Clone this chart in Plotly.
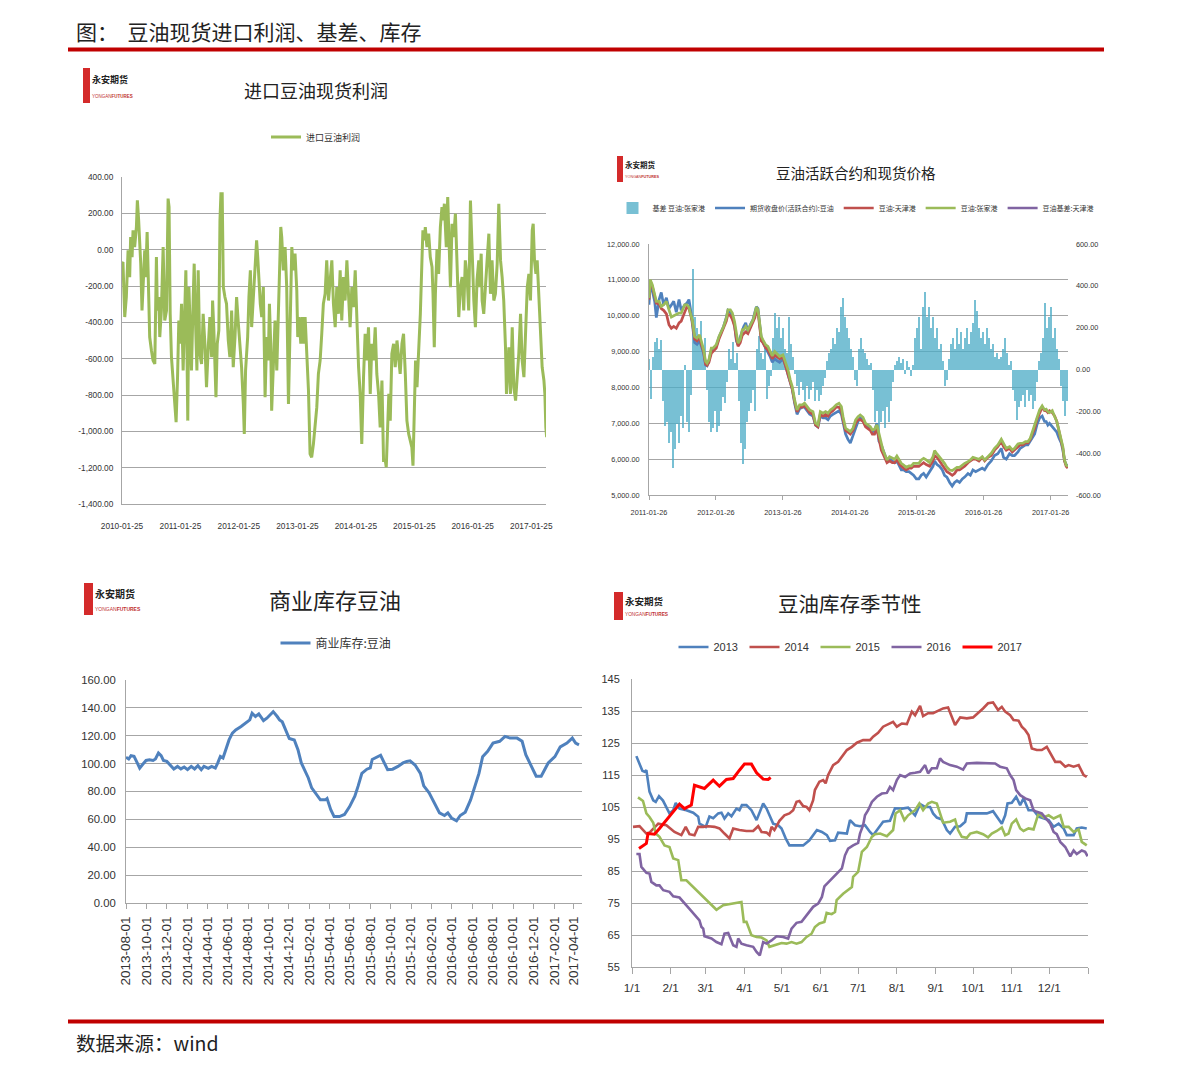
import pandas as pd
import plotly.graph_objects as go

W, H = 1191, 1075
def px(x): return x / W
def py(y): return 1 - y / H

CJK = "Noto Sans CJK SC"
SANS = "Liberation Sans, Arial"
GRID = "#A6A6A6"
TICKC = "#333333"

# ---------------- Chart 1: 进口豆油现货利润 ----------------
profit_start = "2010-01-25"
profit_days = [
    0, 6, 17, 27, 38, 48, 54, 63, 69, 79,
    90, 96, 104, 117, 125, 134, 142, 148, 157, 163,
    173, 184, 194, 205, 215, 221, 230, 236, 246, 257,
    267, 278, 288, 294, 301, 309, 319, 330, 338, 347,
    355, 363, 372, 382, 393, 399, 405, 411, 418, 426,
    434, 445, 451, 459, 468, 476, 486, 497, 507, 518,
    528, 539, 549, 560, 566, 574, 580, 587, 595, 605,
    612, 618, 626, 633, 643, 653, 664, 674, 685, 695,
    706, 716, 727, 737, 747, 758, 764, 772, 785, 793,
    802, 810, 821, 831, 841, 848, 856, 864, 873, 883,
    894, 904, 914, 921, 929, 935, 946, 956, 967, 973,
    981, 992, 998, 1008, 1019, 1029, 1040, 1048, 1061, 1071,
    1081, 1092, 1098, 1107, 1117, 1127, 1136, 1144, 1155, 1165,
    1175, 1185, 1196, 1206, 1217, 1227, 1238, 1248, 1258, 1269,
    1279, 1290, 1300, 1311, 1321, 1332, 1342, 1352, 1363, 1373,
    1384, 1394, 1405, 1415, 1425, 1436, 1446, 1457, 1467, 1478,
    1488, 1498, 1509, 1519, 1530, 1540, 1551, 1561, 1571, 1582,
    1592, 1603, 1613, 1624, 1634, 1645, 1651, 1659, 1667, 1676,
    1686, 1697, 1707, 1718, 1728, 1738, 1749, 1759, 1770, 1780,
    1791, 1801, 1811, 1818, 1826, 1834, 1843, 1853, 1864, 1874,
    1880, 1889, 1895, 1905, 1916, 1926, 1937, 1943, 1951, 1958,
    1968, 1978, 1989, 1999, 2006, 2014, 2020, 2026, 2035, 2043,
    2052, 2062, 2072, 2083, 2093, 2104, 2114, 2125, 2135, 2145,
    2156, 2166, 2177, 2187, 2198, 2208, 2218, 2229, 2235, 2244,
    2250, 2260, 2271, 2281, 2292, 2302, 2312, 2323, 2333, 2344,
    2354, 2365, 2375, 2385, 2396, 2402, 2410, 2417, 2427, 2438,
    2448, 2459, 2469, 2479, 2490, 2500, 2511, 2521, 2532, 2542,
    2552, 2563, 2569, 2577, 2586, 2594, 2605, 2615, 2625, 2636,
    2642, 2648, 2653, 2657,
]
profit_vals = [
    -77, -68, -371, -261, -4, -151, 69, -41, 106, 14,
    125, 272, 161, -77, -335, -114, -4, -151, 97, -114,
    -481, -555, -610, -629, -41, -335, -261, -481, -335, 14,
    -390, -335, 281, 235, -353, -592, -702, -849, -950, -702,
    -390, -518, -298, -665, -206, -114, -481, -941, -206, -518,
    -665, -261, -77, -390, -665, -114, -573, -629, -353, -518,
    -757, -537, -371, -592, -280, -445, -665, -812, -518, -445,
    161, 308, 308, -206, -261, -298, -500, -592, -335, -647,
    -481, -261, -408, -518, -647, -849, -1014, -665, -481, -261,
    -114, -426, -261, -41, 51, -41, -188, -298, -371, -206,
    -812, -481, -610, -298, -518, -886, -629, -390, -665, -445,
    -114, 125, 69, -114, 14, -206, -849, -445, 14, -114,
    -22, -225, -481, -371, -518, -371, -518, -371, -592, -775,
    -1124, -1143, -1069, -978, -867, -684, -610, -463, -298, -243,
    -59, -280, -151, -59, -298, -427, -206, -353, -114, -390,
    -151, -280, -59, -243, -427, -206, -316, -114, -390, -647,
    -794, -1069, -702, -463, -610, -427, -794, -518, -610, -427,
    -684, -794, -978, -720, -1161, -1161, -1198, -941, -794, -941,
    -573, -518, -647, -500, -610, -684, -518, -463, -684, -941,
    -1014, -1051, -1088, -1189, -831, -610, -757, -573, -353, -59,
    106, 51, 124, 14, 88, -41, -96, -243, -537, -243,
    4, -133, 124, 234, 161, 253, 124, 14, 290, 88,
    -206, 143, 69, 198, -59, -371, -206, -151, -335, -59,
    -151, -335, 271, -59, -280, -427, -169, -59, -206, -22,
    -280, -353, -169, -59, 88, -243, -59, -280, -243, -78,
    253, -59, -151, -280, -537, -794, -647, -537, -794, -427,
    -757, -831, -702, -573, -353, -610, -702, -427, -206, -133,
    -280, 106, 143, -59, -133, -59, -280, -463, -647, -720,
    -794, -978, -1032, -959,
]
profit_ticks = ["2010-01-25", "2011-01-25", "2012-01-25", "2013-01-25",
                "2014-01-25", "2015-01-25", "2016-01-25", "2017-01-25"]
profit_yticks = [400, 200, 0, -200, -400, -600, -800, -1000, -1200, -1400]

# ---------------- Chart 2: 豆油活跃合约和现货价格 ----------------
price_start = "2011-01-26"
price_days = [
    0, 7, 18, 31, 40, 55, 67, 80, 95, 109,
    122, 135, 149, 164, 176, 195, 207, 218, 226, 236,
    244, 249, 262, 276, 286, 298, 309, 317, 327, 340,
    349, 367, 382, 395, 407, 422, 431, 444, 455, 467,
    477, 486, 498, 509, 517, 528, 540, 553, 568, 578,
    586, 595, 604, 613, 622, 637, 649, 662, 673, 686,
    698, 713, 731, 746, 759, 771, 782, 795, 808, 822,
    837, 849, 862, 877, 895, 909, 922, 935, 950, 964,
    977, 990, 1004, 1022, 1037, 1050, 1059, 1073, 1086, 1099,
    1113, 1128, 1141, 1153, 1168, 1182, 1195, 1208, 1219, 1231,
    1244, 1255, 1268, 1277, 1286, 1299, 1313, 1328, 1341, 1353,
    1368, 1377, 1390, 1404, 1419, 1432, 1444, 1459, 1473, 1486,
    1499, 1513, 1532, 1550, 1559, 1572, 1586, 1601, 1613, 1626,
    1641, 1655, 1668, 1681, 1695, 1710, 1723, 1741, 1754, 1768,
    1783, 1801, 1819, 1832, 1850, 1868, 1886, 1904, 1923, 1935,
    1950, 1968, 1983, 1995, 2014, 2026, 2041, 2055, 2068, 2081,
    2096, 2105, 2117, 2132, 2146, 2159, 2168, 2177, 2186, 2201,
    2214, 2226, 2237, 2250, 2259, 2268, 2277, 2286,
]
futures_close = [
    10306, 10900, 10700, 10400, 9950, 10450, 10650, 10300, 10500, 10200,
    10300, 10400, 10100, 10450, 10150, 10300, 10350, 10450, 10200, 9800,
    9400, 9250, 9200, 9300, 9150, 8950, 8620, 8600, 8750, 9050,
    9050, 9150, 9400, 9550, 9700, 9950, 10150, 10100, 9950, 9750,
    9300, 9200, 9400, 9600, 9700, 9800, 9550, 9750, 9900, 10100,
    10250, 10200, 9750, 9350, 9250, 9100, 9000, 8850, 8700, 8800,
    8750, 8700, 8800, 8600, 8350, 8100, 7950, 7550, 7250, 7400,
    7450, 7450, 7350, 7250, 7200, 6950, 6900, 7200, 7150, 7150,
    7100, 7200, 7250, 7300, 7350, 7250, 7000, 6700, 6550, 6450,
    6650, 6900, 7050, 7150, 7100, 6950, 6900, 6850, 6750, 6800,
    7000, 6500, 6400, 6250, 6100, 5950, 6000, 5950, 5900, 5950,
    5800, 5700, 5700, 5650, 5650, 5600, 5550, 5450, 5450, 5550,
    5600, 5500, 5650, 5800, 5950, 5850, 5800, 5700, 5550, 5500,
    5350, 5250, 5350, 5400, 5350, 5450, 5500, 5600, 5550, 5700,
    5650, 5700, 5750, 5700, 5850, 5950, 6100, 6150, 6300, 6050,
    6000, 6150, 6100, 6100, 6200, 6300, 6350, 6400, 6400, 6500,
    6650, 6700, 6950, 7150, 7200, 7050, 7050, 6950, 7000, 6900,
    6800, 6750, 6600, 6450, 6250, 5950, 5850, 5800,
]
tianjin_price = [
    10450, 10950, 10820, 10500, 10350, 10330, 10200, 10150, 10050, 9750,
    9650, 9700, 9650, 9800, 9850, 10100, 10250, 10200, 10050, 9850,
    9550, 9350, 9300, 9400, 9200, 9000, 8650, 8620, 8700, 8950,
    9000, 9100, 9350, 9500, 9650, 9850, 10050, 10000, 9900, 9700,
    9350, 9150, 9250, 9450, 9500, 9550, 9500, 9650, 9800, 9950,
    10150, 10100, 9700, 9300, 9250, 9100, 9050, 8900, 8800, 8900,
    8850, 8800, 8850, 8600, 8400, 8150, 7950, 7600, 7320, 7450,
    7450, 7500, 7400, 7300, 7250, 6950, 6900, 7250, 7200, 7250,
    7200, 7300, 7350, 7450, 7450, 7350, 7100, 6800, 6750, 6700,
    6800, 7000, 7100, 7100, 7050, 6900, 6850, 6800, 6700, 6700,
    6850, 6600, 6250, 6150, 6050, 5900, 5950, 5900, 5900, 6000,
    5850, 5800, 5750, 5700, 5750, 5750, 5800, 5800, 5800, 5850,
    5900, 5850, 5800, 5950, 6100, 6050, 5950, 5850, 5750, 5650,
    5600, 5550, 5600, 5700, 5700, 5750, 5800, 5900, 5950, 6000,
    6000, 5950, 6050, 5950, 6050, 6100, 6250, 6350, 6500, 6350,
    6250, 6300, 6200, 6250, 6350, 6400, 6400, 6450, 6450, 6550,
    6750, 6850, 7100, 7300, 7450, 7350, 7350, 7300, 7350, 7300,
    7200, 7050, 6800, 6550, 6300, 5950, 5800, 5750,
]
zjg_price = [
    10492, 11004, 10864, 10538, 10399, 10399, 10259, 10306, 10399, 10166,
    9961, 9999, 10027, 10073, 10073, 10306, 10306, 10241, 10073, 9887,
    9608, 9421, 9375, 9468, 9282, 9049, 8723, 8677, 8770, 9096,
    9096, 9189, 9421, 9561, 9701, 9933, 10166, 10166, 10073, 9840,
    9468, 9235, 9328, 9608, 9608, 9701, 9608, 9747, 9887, 10073,
    10241, 10166, 9794, 9421, 9328, 9189, 9142, 9003, 8882, 9003,
    8937, 8863, 8910, 8677, 8491, 8211, 8025, 7653, 7373, 7513,
    7513, 7560, 7467, 7373, 7327, 7001, 6955, 7327, 7281, 7327,
    7281, 7373, 7420, 7513, 7560, 7467, 7187, 6861, 6815, 6768,
    6861, 7094, 7187, 7234, 7169, 7001, 6955, 6908, 6815, 6833,
    6955, 6722, 6396, 6256, 6145, 5977, 6070, 6024, 5996, 6089,
    5959, 5884, 5838, 5772, 5810, 5810, 5884, 5884, 5884, 5977,
    6024, 5977, 5903, 6070, 6238, 6145, 6052, 5977, 5884, 5772,
    5698, 5679, 5716, 5772, 5772, 5838, 5884, 5931, 5977, 6052,
    6024, 5996, 6070, 5977, 6070, 6163, 6303, 6396, 6554, 6443,
    6303, 6349, 6256, 6303, 6424, 6443, 6443, 6489, 6489, 6582,
    6815, 6908, 7141, 7373, 7485, 7373, 7392, 7327, 7299, 7355,
    7187, 7048, 6815, 6582, 6349, 5977, 5838, 5791,
]
basis_zjg = [
    50, -140, 60, 130, 150, 100, 140, -150, -270, -250,
    -350, -300, -470, -380, -260, -350, -220, -280, 20, -250,
    -300, -120, 480, 250, 200, 120, 230, 90, 150, -100,
    -250, -300, -280, -200, -300, -270, -200, -130, -160, -60,
    100, 50, 130, 30, 80, -150, -350, -450, -380, -250,
    -200, -160, -100, -200, 100, 160, 80, 50, 120, -140,
    -80, -30, 150, 270, 200, 250, 150, 200, 100, 80,
    250, 120, 60, -20, -80, -120, -60, -100, -150, -80,
    -140, -100, -60, -150, -100, -150, -120, -80, -40, 40,
    80, 100, 150, 120, 200, 180, 300, 340, 250, 200,
    150, 100, 60, -50, -80, 100, 150, 100, 80, 50,
    20, 30, -100, -250, -200, -300, -250, -200, -280, -180,
    -250, -150, -60, 20, 40, 60, 30, 50, -20, 40,
    10, -30, 20, 150, 200, 250, 100, 300, 370, 250,
    300, 200, 250, 150, 200, 100, 120, 40, -80, -50,
    50, 120, 150, 100, 200, 120, 180, 100, 150, 200,
    120, 180, 220, 330, 280, 200, 150, 180, 120, 200,
    150, 100, 120, 60, 80, 50, 60, 100, 150, 80,
    20, 40, -100, -150, -240, -180, -150, -120, -180, -100,
    -150, -120, -190, -150, -60, 40, 80, 150, 320, 200,
    250, 300, 150, 200, 100, 50, -80, -150, -220, -150,
]
basis_tianjin = [None]
price_ticks = ["2011-01-26", "2012-01-26", "2013-01-26", "2014-01-26",
               "2015-01-26", "2016-01-26", "2017-01-26"]
price_yticks = [5000, 6000, 7000, 8000, 9000, 10000, 11000, 12000]
basis_yticks = [-600, -400, -200, 0, 200, 400, 600]

# ---------------- Chart 3: 商业库存豆油 ----------------
stock_dates = [
    "2013-08-01", "2013-08-09", "2013-08-16", "2013-08-25", "2013-09-04", "2013-09-11",
    "2013-09-19", "2013-09-30", "2013-10-10", "2013-10-21", "2013-10-28", "2013-11-06",
    "2013-11-14", "2013-11-21", "2013-12-01", "2013-12-12", "2013-12-22", "2014-01-02",
    "2014-01-12", "2014-01-22", "2014-02-01", "2014-02-12", "2014-02-22", "2014-03-04",
    "2014-03-14", "2014-03-22", "2014-04-04", "2014-04-14", "2014-04-25", "2014-05-02",
    "2014-05-10", "2014-05-18", "2014-05-26", "2014-06-05", "2014-06-15", "2014-06-25",
    "2014-07-11", "2014-07-26", "2014-08-06", "2014-08-13", "2014-08-23", "2014-09-02",
    "2014-09-16", "2014-09-26", "2014-10-06", "2014-10-15", "2014-10-27", "2014-11-03",
    "2014-11-11", "2014-11-22", "2014-12-02", "2014-12-17", "2014-12-28", "2015-01-07",
    "2015-01-17", "2015-01-28", "2015-02-07", "2015-02-17", "2015-03-05", "2015-03-20",
    "2015-03-25", "2015-04-05", "2015-04-15", "2015-05-01", "2015-05-16", "2015-05-31",
    "2015-06-16", "2015-06-26", "2015-07-07", "2015-07-22", "2015-08-01", "2015-08-07",
    "2015-08-22", "2015-09-01", "2015-09-12", "2015-09-22", "2015-10-07", "2015-10-23",
    "2015-11-07", "2015-11-18", "2015-11-28", "2015-12-13", "2015-12-29", "2016-01-08",
    "2016-01-24", "2016-02-08", "2016-02-24", "2016-03-10", "2016-03-20", "2016-03-31",
    "2016-04-10", "2016-04-15", "2016-04-26", "2016-05-11", "2016-05-27", "2016-06-11",
    "2016-06-21", "2016-07-02", "2016-07-17", "2016-08-02", "2016-08-22", "2016-09-07",
    "2016-09-22", "2016-10-13", "2016-10-28", "2016-11-08", "2016-11-23", "2016-12-09",
    "2016-12-24", "2017-01-14", "2017-02-03", "2017-02-19", "2017-03-11", "2017-03-27",
    "2017-04-06", "2017-04-16",
]
stock_vals = [
    104.5, 103.3, 105.7, 105.2, 100.4, 96.8,
    99.2, 102.3, 102.8, 102.3, 103.3, 107.6,
    105.7, 102.3, 101.6, 98.5, 96.2, 98.0,
    96.2, 97.6, 95.7, 98.0, 96.2, 98.5,
    95.7, 98.0, 96.6, 98.0, 96.8, 100.4,
    105.2, 104.0, 110.0, 117.0, 121.9, 124.2,
    126.6, 129.5, 131.4, 136.2, 133.8, 135.7,
    130.9, 132.6, 135.0, 137.3, 133.8, 131.4,
    130.0, 123.0, 118.0, 117.0, 110.0, 100.5,
    95.7, 89.7, 82.6, 79.0, 74.0, 74.0,
    75.0, 67.0, 62.0, 62.0, 63.5, 69.0,
    76.6, 84.0, 93.0, 96.0, 97.0, 103.0,
    105.0, 106.0, 100.5, 95.7, 96.0, 98.0,
    100.5, 101.6, 102.0, 99.0, 93.0, 84.0,
    79.0, 72.0, 64.7, 62.8, 64.7, 61.0,
    60.0, 59.0, 62.8, 65.2, 74.0, 84.7,
    93.0, 105.0, 108.8, 114.7, 116.0, 119.5,
    118.3, 118.3, 116.0, 106.4, 99.3, 91.0,
    91.0, 100.5, 105.0, 112.0, 114.7, 118.3,
    114.7, 113.5,
]
stock_ticks = pd.date_range("2013-08-01", "2017-04-01", freq="2MS")
stock_yticks = [0, 20, 40, 60, 80, 100, 120, 140, 160]

# ---------------- Chart 4: 豆油库存季节性 (day of year) ----------------
day_2013 = [3.5, 5.6, 8.3, 10, 11.5, 14, 17, 19, 21.6, 24.8, 27.5, 30, 33, 35, 38, 43.5, 49, 53, 54, 57,
            59, 62, 65, 69, 71.6, 74, 77, 79.6, 83.6, 86, 88, 91.6, 95.6, 99.7, 101.8, 105, 107.7, 110, 113, 117,
            119.7, 123, 126, 131.7, 137, 142, 148, 152, 156, 158.5, 162.5, 165, 172, 174.5, 178.5, 182.5, 186.5,
            190.5, 193, 197, 201, 206.5, 209, 210.5, 216, 221, 226.6, 230.6, 234.6, 238.6, 241, 244, 248, 252,
            254.6, 258.6, 262.7, 266.7, 268, 273, 278.7, 284, 289, 293, 296, 298.7, 300.6, 304, 307.5, 310.7,
            313.4, 317.4, 321.4, 325.4, 329.5, 333.5, 337.5, 341.5, 345.5, 348, 353.5, 356, 360, 364]
stock_2013 = [120.9, 119, 116.3, 116, 116.5, 109.8, 107.1, 106.6, 108.4, 107, 105, 103, 104, 106.3, 104.5, 104,
              103.2, 102, 99.8, 99.3, 98.8, 102, 101.5, 103, 103.2, 101.4, 103, 102.1, 104.5, 104, 105.6, 105.6,
              104, 100.9, 103, 106.1, 104.5, 102.4, 99.8, 99.3, 98.3, 95.2, 93, 93, 93, 94.6, 97.8, 97.2, 96.2,
              94.4, 94.6, 97, 96.7, 100.9, 99.3, 99, 99.3, 97.2, 96.2, 98.3, 100.4, 100.7, 103, 104.6, 104.5,
              104.8, 102.4, 105.9, 105, 105, 103, 101.7, 101.1, 97.8, 96.7, 98.8, 99, 100.4, 103, 103, 102.8, 103,
              103.7, 101.4, 99.8, 102.4, 106.1, 106.3, 108.2, 105.6, 107.7, 104, 104, 102, 101.4, 100.9, 98.8,
              99.8, 98.3, 96.2, 96.2, 98.3, 98.6, 98.3]
day_2014 = [0.8, 6, 11.5, 14, 21, 27.5, 34, 39.5, 43, 46, 50, 53, 57, 61, 66, 70, 74, 78, 81, 86, 91.6, 97, 101,
            103.7, 107.7, 110, 111.7, 114, 118, 122, 126, 129, 131.7, 134, 137, 139.7, 142, 145, 146.4, 150, 153,
            155, 157, 161, 165, 169, 172, 176, 180, 185, 190.5, 193, 197, 201, 205, 209, 212, 216, 220, 224,
            226.6, 230.6, 233, 237, 241, 245, 249, 253, 256, 258.6, 262.7, 268, 273, 277, 281, 285, 289, 293,
            296, 298.7, 302.7, 305.4, 309.4, 312, 314.8, 317.4, 320, 324, 328, 332, 334.8, 338.8, 342.8, 346.8,
            349.5, 353.5, 357.5, 361.5, 364]
stock_2014 = [98.8, 99, 96.7, 97, 99.8, 99.3, 97.2, 96.2, 98.8, 96.5, 96.2, 98.8, 98.8, 99, 98.8, 98.3, 96.7,
              95.2, 98.3, 97.8, 97.5, 97.5, 99, 97.2, 97, 96.2, 98.8, 97.8, 100.7, 102.4, 103, 104, 106.6, 106.9,
              105.3, 105, 104, 107.1, 110.3, 112.9, 113.4, 112.4, 115, 118.1, 119.1, 121.2, 122.8, 123.8, 125.1,
              125.9, 125.9, 127, 128.2, 130.1, 130.9, 131.6, 130.1, 131.1, 130.9, 134.8, 133.7, 136.6, 133.4,
              134.3, 134.3, 135.1, 135.8, 136.1, 133, 130.6, 133, 132.7, 133, 134.3, 135.8, 137.4, 137.7, 135.3,
              136.3, 134.8, 133.7, 132.2, 132, 130.1, 129, 127.5, 123.3, 122.8, 122.8, 123.8, 121.7, 119.1,
              119.1, 117.6, 118.1, 117.6, 118.1, 115, 114.4]
day_2015 = [4.8, 8.8, 11.5, 14, 17, 19, 22, 26, 30, 33, 37, 39.5, 43.5, 49, 54, 59.6, 63.6, 67.6, 73, 78, 83.6,
            87.6, 89.5, 91.6, 95.6, 99.7, 103.7, 107.7, 110, 114, 119.7, 123.7, 127.7, 131.7, 135.7, 139.7,
            143.7, 146.4, 150, 154, 155.8, 159.8, 162.5, 163.8, 169, 176, 177, 181, 184, 188, 192, 194.5,
            198.6, 204, 209, 211, 214.6, 218, 221, 226.6, 230, 233, 237, 240, 244, 246.6, 249, 254.6, 258.6,
            261, 264, 268, 270.7, 276, 281, 285, 288, 292, 296, 298.7, 301.4, 304, 307.5, 310.7, 313.4, 317.4,
            321.4, 325.4, 329.5, 333.5, 337.5, 342.8, 345.5, 349.5, 353.5, 357.5, 360, 364]
stock_2015 = [108, 106.9, 103, 101.9, 100.1, 96.7, 95.7, 93, 92.5, 88.9, 88.4, 82.1, 82.1, 80, 77.9, 75.9, 74.3,
              72.9, 74.3, 74.6, 75, 75.3, 69.1, 69.1, 64.9, 64.4, 64.2, 63.3, 61.3, 61.8, 62.5, 62.3, 62.8, 62.3,
              62.8, 64.4, 65.4, 67.5, 68.6, 69.1, 71.9, 71.5, 72.2, 75.9, 77.9, 80, 83.2, 84.7, 91, 92.5, 95.7,
              96.5, 96.7, 95.9, 97.8, 103, 104, 100.9, 102.4, 104, 106.1, 104, 106.1, 106.6, 106.1, 103, 100.1,
              100.4, 101.1, 97.8, 95.7, 95.4, 96.7, 97.2, 96.5, 95.5, 96.7, 97.5, 98.6, 96.2, 96.7, 99.8, 101.1,
              98.3, 97.5, 98.3, 98, 103, 101.7, 102.4, 101.4, 102.4, 98.8, 98.8, 97.2, 98, 94.1, 93]
day_2016 = [3.5, 6, 7.5, 11.5, 14, 15.5, 19.5, 22, 25, 30, 33, 38, 46, 54, 55.6, 57, 58, 63.6, 67.6, 71.6, 74,
            77, 81, 83.6, 85, 87.6, 91.6, 97, 99.7, 102.3, 105, 107.7, 111.7, 115.7, 121, 125, 127.7, 131.7,
            135.7, 139.7, 145, 149, 152, 154, 158.5, 164, 168, 170.5, 173, 177, 181, 182.5, 185, 186.5, 189,
            192, 196, 200, 204, 206.5, 209, 212, 214.6, 218.6, 222.6, 226.6, 230.6, 234.6, 237, 240, 244,
            246.6, 249, 254.6, 260, 265, 268, 276, 284, 290.6, 294.6, 300, 302.7, 305.4, 307.5, 310.7, 314.8,
            318.7, 321.4, 324, 328, 332, 334.8, 337.5, 340, 342.8, 346.8, 350.8, 353.5, 356, 360, 362.7, 364.7]
stock_2016 = [90.3, 90.3, 86.3, 84.4, 84.2, 81.6, 80.5, 80.5, 79, 78.5, 77.1, 76.7, 73.2, 69.6, 67.5, 67, 64.6,
              63.9, 62.8, 62.1, 65.4, 65.6, 61.8, 61.3, 63.9, 62.3, 61.8, 61.3, 59.7, 58.6, 62.8, 62.3, 63.3,
              64.6, 64.4, 63.9, 67, 68.8, 69.1, 71.2, 73.8, 74.8, 76.9, 80.2, 82.1, 84.2, 85.8, 89.9, 92, 93,
              93.8, 96.7, 99.3, 102.4, 104, 106.6, 108.2, 109.2, 109.4, 111.3, 110.3, 113.4, 115, 114.4, 115.5,
              115.7, 116, 118.1, 115.5, 117.1, 117.1, 120.2, 119.1, 118.1, 117.6, 116.7, 118.6, 118.8, 118.8,
              118.6, 117.6, 117.1, 115, 113.4, 110.3, 108.7, 107.7, 107.1, 104, 103.5, 103, 101.1, 99.8, 97.2,
              96.5, 94.1, 92.5, 89.6, 91.4, 90.3, 91.4, 91, 89.6]
day_2017 = [5.6, 11.5, 12.8, 18, 22, 27.5, 33, 38, 42, 47.5, 50, 54, 58, 65, 70, 75.6, 81, 86, 90, 95.6, 99.7,
            105, 109, 111]
stock_2017 = [92, 93.6, 96.7, 96.5, 98.3, 100.9, 103.5, 105.9, 104.5, 105.6, 111.8, 111.3, 110.8, 113.4, 111.5,
              113.6, 113.9, 116.5, 118.4, 118.4, 115.7, 113.7, 113.6, 114.2]
season_years = ["2013", "2014", "2015", "2016", "2017"]
month_tick_days = [0, 31, 59, 90, 120, 151, 181, 212, 243, 273, 304, 334, 365]
month_tick_text = ["1/1", "2/1", "3/1", "4/1", "5/1", "6/1", "7/1", "8/1", "9/1", "10/1", "11/1", "12/1", ""]
season_yticks = [55, 65, 75, 85, 95, 105, 115, 125, 135, 145]

# ---------------- colours ----------------
C_BLUE, C_RED, C_GREEN, C_PURPLE, C_TEAL, C_RED2 = "#4F81BD", "#C0504D", "#9BBB59", "#8064A2", "#4BACC6", "#FF0000"

fig = go.Figure()

# Chart 1
profit_dates = pd.Timestamp(profit_start) + pd.to_timedelta(profit_days, unit="D")
fig.add_trace(go.Scatter(x=profit_dates, y=profit_vals, mode="lines", name="进口豆油利润",
                         line=dict(color=C_GREEN, width=3), xaxis="x", yaxis="y", legend="legend"))

# Chart 2
n = min(len(price_days), len(futures_close), len(tianjin_price), len(zjg_price))
price_dates = pd.Timestamp(price_start) + pd.to_timedelta(price_days[:n], unit="D")
basis_dates = pd.date_range(price_start, periods=len(basis_zjg), freq=pd.Timedelta(hours=262))
fig.add_trace(go.Bar(x=basis_dates, y=basis_zjg, name="基差 豆油:张家港", marker=dict(color=C_TEAL, line=dict(width=0)),
                     width=262 * 3600 * 1000 * 0.6, opacity=0.75, xaxis="x2", yaxis="y2", legend="legend2"))
fig.add_trace(go.Scatter(x=price_dates, y=futures_close[:n], mode="lines", name="期货收盘价(活跃合约):豆油",
                         line=dict(color=C_BLUE, width=2.7), xaxis="x2", yaxis="y3", legend="legend2"))
fig.add_trace(go.Scatter(x=price_dates, y=tianjin_price[:n], mode="lines", name="豆油:天津港",
                         line=dict(color=C_RED, width=2.7), xaxis="x2", yaxis="y3", legend="legend2"))
fig.add_trace(go.Scatter(x=price_dates, y=zjg_price[:n], mode="lines", name="豆油:张家港",
                         line=dict(color=C_GREEN, width=2.7), xaxis="x2", yaxis="y3", legend="legend2"))
fig.add_trace(go.Scatter(x=price_dates[:1], y=basis_tianjin, mode="lines", name="豆油基差:天津港",
                         line=dict(color=C_PURPLE, width=2.4), xaxis="x2", yaxis="y3", legend="legend2"))

# Chart 3
fig.add_trace(go.Scatter(x=pd.to_datetime(stock_dates), y=stock_vals, mode="lines", name="商业库存:豆油",
                         line=dict(color=C_BLUE, width=3), xaxis="x3", yaxis="y4", legend="legend3"))

# Chart 4
season = [(day_2013, stock_2013, C_BLUE, 2.6), (day_2014, stock_2014, C_RED, 2.6),
          (day_2015, stock_2015, C_GREEN, 2.6), (day_2016, stock_2016, C_PURPLE, 2.6),
          (day_2017, stock_2017, C_RED2, 3.0)]
for yr, (d, v, c, w) in zip(season_years, season):
    fig.add_trace(go.Scatter(x=d, y=v, mode="lines", name=yr, line=dict(color=c, width=w),
                             xaxis="x4", yaxis="y5", legend="legend4"))

def fmt(v):
    return f"{v:,.2f}"

tf = lambda s: dict(family=SANS, size=s, color=TICKC)

fig.update_layout(
    width=W, height=H, margin=dict(l=0, r=0, t=0, b=0, autoexpand=False),
    paper_bgcolor="white", plot_bgcolor="white",
    font=dict(family=CJK, color="#222"),
    showlegend=True,
    bargap=0,
    # chart 1
    xaxis=dict(domain=[px(122), px(546)], anchor="y", type="date",
               range=[pd.Timestamp("2010-01-25"), pd.Timestamp("2017-04-27")],
               tickvals=profit_ticks, ticktext=profit_ticks, showgrid=False,
               showline=True, linecolor=GRID, ticks="", tickfont=tf(8.3), ticklabelstandoff=14),
    yaxis=dict(domain=[py(504), py(177)], anchor="x", range=[-1400, 400],
               tickvals=profit_yticks, ticktext=[fmt(v) for v in profit_yticks],
               showgrid=True, gridcolor=GRID, gridwidth=1, zeroline=False,
               showline=True, linecolor=GRID, ticks="", tickfont=tf(8.3), ticklabelstandoff=6),
    # chart 2
    xaxis2=dict(domain=[px(649), px(1068)], anchor="y2", type="date",
                range=[pd.Timestamp("2011-01-26"), pd.Timestamp("2017-05-01")],
                tickvals=price_ticks, ticktext=price_ticks, showgrid=False,
                showline=True, linecolor=GRID, ticks="outside", ticklen=4, tickcolor=GRID,
                tickfont=tf(7.3), ticklabelstandoff=6),
    yaxis2=dict(domain=[py(495), py(244)], anchor="x2", side="right", range=[-600, 600],
                tickvals=basis_yticks, ticktext=[fmt(v) for v in basis_yticks],
                showgrid=False, zeroline=False, showline=False, ticks="",
                tickfont=tf(7.3), ticklabelstandoff=7),
    yaxis3=dict(overlaying="y2", anchor="x2", side="left", range=[5000, 12000],
                tickvals=price_yticks, ticktext=[fmt(v) for v in price_yticks],
                showgrid=True, gridcolor=GRID, zeroline=False, showline=True, linecolor=GRID,
                ticks="", tickfont=tf(7.3), ticklabelstandoff=7),
    # chart 3
    xaxis3=dict(domain=[px(126), px(582)], anchor="y4", type="date",
                range=[pd.Timestamp("2013-08-01"), pd.Timestamp("2017-04-25")],
                tickvals=stock_ticks, tickformat="%Y-%m-%d", tickangle=-90, showgrid=False,
                showline=True, linecolor=GRID, ticks="outside", ticklen=5, tickcolor=GRID,
                tickfont=tf(13.5), ticklabelstandoff=2),
    yaxis4=dict(domain=[py(903), py(680)], anchor="x3", range=[0, 160],
                tickvals=stock_yticks, ticktext=[fmt(v) for v in stock_yticks],
                showgrid=True, gridcolor=GRID, zeroline=False, showline=True, linecolor=GRID,
                ticks="", tickfont=tf(11.3), ticklabelstandoff=7),
    # chart 4
    xaxis4=dict(domain=[px(632), px(1088)], anchor="y5", range=[0, 365],
                tickvals=month_tick_days, ticktext=month_tick_text, showgrid=False,
                showline=True, linecolor=GRID, ticks="outside", ticklen=6, tickcolor=GRID,
                tickfont=tf(11.8), ticklabelstandoff=4, zeroline=False),
    yaxis5=dict(domain=[py(967), py(679)], anchor="x4", range=[55, 145],
                tickvals=season_yticks, showgrid=True, gridcolor=GRID, zeroline=False,
                showline=True, linecolor=GRID, ticks="", tickfont=tf(11), ticklabelstandoff=9),
    legend=dict(x=px(316), y=py(137), xanchor="center", yanchor="middle", orientation="h",
                font=dict(family=CJK, size=9, color="#333"), bgcolor="rgba(0,0,0,0)", itemwidth=30),
    legend2=dict(x=px(856), y=py(208), xanchor="center", yanchor="middle", orientation="h",
                 font=dict(family=CJK, size=7, color="#333"), bgcolor="rgba(0,0,0,0)", itemwidth=30),
    legend3=dict(x=px(336), y=py(643), xanchor="center", yanchor="middle", orientation="h",
                 font=dict(family=CJK, size=12, color="#333"), bgcolor="rgba(0,0,0,0)", itemwidth=30),
    legend4=dict(x=px(851), y=py(647), xanchor="center", yanchor="middle", orientation="h",
                 font=dict(family=SANS, size=11, color="#333"), bgcolor="rgba(0,0,0,0)", itemwidth=30,
                 entrywidth=26),
)

shapes = [
    dict(type="line", xref="paper", yref="paper", x0=px(68), x1=px(1104), y0=py(49.5), y1=py(49.5),
         line=dict(color="#C00000", width=4)),
    dict(type="line", xref="paper", yref="paper", x0=px(68), x1=px(1104), y0=py(1021.5), y1=py(1021.5),
         line=dict(color="#C00000", width=4)),
]
annotations = [
    dict(text="图：\u00a0\u00a0豆油现货进口利润、基差、库存", x=px(74), y=py(31), xref="paper", yref="paper",
         xanchor="left", yanchor="middle", showarrow=False, font=dict(family=CJK, size=21, color="#222")),
    dict(text="数据来源：wind", x=px(74), y=py(1042), xref="paper", yref="paper",
         xanchor="left", yanchor="middle", showarrow=False, font=dict(family=CJK, size=19.5, color="#222")),
    dict(text="进口豆油现货利润", x=px(316), y=py(90), xref="paper", yref="paper", showarrow=False,
         xanchor="center", yanchor="middle", font=dict(family=CJK, size=18, color="#222")),
    dict(text="豆油活跃合约和现货价格", x=px(856), y=py(172), xref="paper", yref="paper", showarrow=False,
         xanchor="center", yanchor="middle", font=dict(family=CJK, size=14.5, color="#222")),
    dict(text="商业库存豆油", x=px(335), y=py(599), xref="paper", yref="paper", showarrow=False,
         xanchor="center", yanchor="middle", font=dict(family=CJK, size=22, color="#222")),
    dict(text="豆油库存季节性", x=px(850), y=py(603), xref="paper", yref="paper", showarrow=False,
         xanchor="center", yanchor="middle", font=dict(family=CJK, size=20.5, color="#222")),
]
# company logos: (bar x0, bar x1, top, bottom, text size)
logos = [(83, 90, 68, 103, 9), (617, 623, 156, 182, 7.5), (84, 93, 583, 615, 10), (614, 623, 592, 620, 9.5)]
for bx0, bx1, top, bot, s in logos:
    shapes.append(dict(type="rect", xref="paper", yref="paper", x0=px(bx0), x1=px(bx1), y0=py(bot), y1=py(top),
                       fillcolor="#D42A2A", line=dict(width=0)))
    annotations.append(dict(text="<b>永安期货</b>", x=px(bx1), y=py(top + (bot - top) * 0.33), xref="paper",
                            yref="paper", xanchor="left", yanchor="middle", showarrow=False,
                            font=dict(family=CJK, size=s, color="#222")))
    annotations.append(dict(text="YONGAN<b>FUTURES</b>", x=px(bx1), y=py(top + (bot - top) * 0.8),
                            xref="paper", yref="paper", xanchor="left", yanchor="middle", showarrow=False,
                            font=dict(family=SANS, size=s * 0.5, color="#C03030")))
fig.update_layout(shapes=shapes, annotations=annotations)

fig.write_html("out.html", config={"displayModeBar": False},
               post_script="document.body.style.margin='0px'; document.body.style.overflow='hidden';")
